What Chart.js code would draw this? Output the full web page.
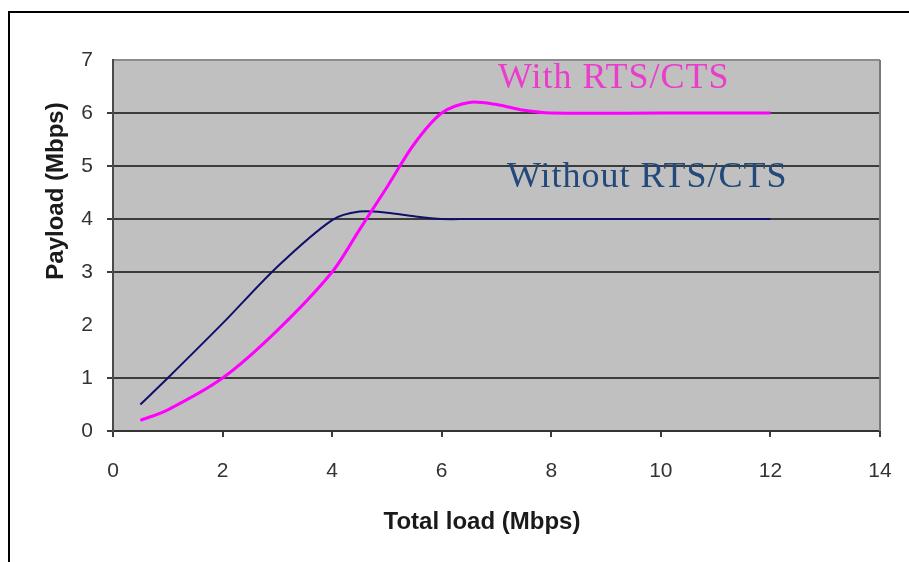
<!DOCTYPE html>
<html>
<head>
<meta charset="utf-8">
<title>Payload vs total load</title>
<script src="https://cdn.jsdelivr.net/npm/chart.js@4.4.1/dist/chart.umd.min.js"></script>
<style>
  html, body {
    margin: 0;
    padding: 0;
    background: #ffffff;
  }

  #chart {
    display: block;
  }
</style>
</head>
<body>
<canvas id="chart" width="909" height="562"></canvas>
<script>
// values (Mbps)
const loadMbps = [0.5, 1, 2, 3, 4, 4.5, 5, 5.5, 6, 6.5, 7, 7.5, 8, 10, 12];
const withRtsCts = [0.2, 0.4, 1.0, 1.9, 3.0, 3.8, 4.6, 5.42, 6.0, 6.2, 6.16, 6.05, 6.0, 6.0, 6.0];
const withoutRtsCts = [0.5, 1.0, 2.03, 3.1, 3.98, 4.14, 4.12, 4.05, 4.0, 4.0, 4.0, 4.0, 4.0, 4.0, 4.0];

const xRange = [0, 14];
const yRange = [0, 7];
const xStep = 2;
const yStep = 1;

const seriesNames = ["With RTS/CTS", "Without RTS/CTS"];
const xTitle = "Total load (Mbps)";
const yTitle = "Payload (Mbps)";


function toPoints(xs, ys) {
  return xs.map((x, i) => ({ x: x, y: ys[i] }));
}


function yGridColor(ctx) {
  if (!ctx.tick) {
    return "#3c3c3c";
  }

  if (ctx.tick.value === 2) {
    return "rgba(0,0,0,0)";
  }

  if (ctx.tick.value === 7) {
    return "#8c8c8c";
  }

  return "#3c3c3c";
}


function yTickColor(ctx) {
  if (ctx.tick && (ctx.tick.value === 2 || ctx.tick.value === 7)) {
    return "rgba(0,0,0,0)";
  }

  return "#3c3c3c";
}


const decorPlugin = {
  id: "decor",

  beforeDraw(chart) {
    const ctx = chart.ctx;
    const area = chart.chartArea;

    ctx.save();
    ctx.fillStyle = "#c0c0c0";
    ctx.fillRect(area.left, area.top, area.right - area.left, area.bottom - area.top);
    ctx.restore();
  },

  afterDraw(chart) {
    const ctx = chart.ctx;
    const area = chart.chartArea;

    ctx.save();

    // right edge of the plot
    ctx.fillStyle = "#7a7a7a";
    ctx.fillRect(area.right - 1, area.top, 2, area.bottom - area.top);

    // frame of the figure
    ctx.fillStyle = "#000000";
    ctx.fillRect(8, 11, 2, chart.height - 11);
    ctx.fillRect(8, 11, chart.width - 8, 2);

    // series labels
    ctx.font = "36px \"Liberation Serif\", \"Times New Roman\", serif";
    ctx.letterSpacing = "1px";
    ctx.textAlign = "left";
    ctx.textBaseline = "alphabetic";
    ctx.fillStyle = "#ec3ccb";
    ctx.fillText(seriesNames[0], 498, 88);
    ctx.fillStyle = "#22497a";
    ctx.fillText(seriesNames[1], 507, 187);
    ctx.letterSpacing = "0px";

    // axis titles
    ctx.fillStyle = "#1a1a1a";
    ctx.font = "bold 24px \"Liberation Sans\", Arial, sans-serif";
    ctx.textAlign = "center";
    ctx.fillText(xTitle, 482, 529);

    ctx.translate(63, 191);
    ctx.rotate(-Math.PI / 2);
    ctx.fillText(yTitle, 0, 0);

    ctx.restore();
  }
};


function renderChart() {
  const canvas = document.getElementById("chart");
  const ctx = canvas.getContext("2d");

  Chart.defaults.font.family = "\"Liberation Sans\", Arial, sans-serif";

  new Chart(ctx, {
    type: "line",
    data: {
      datasets: [
        {
          label: seriesNames[0],
          data: toPoints(loadMbps, withRtsCts),
          borderColor: "#ff00ff",
          borderWidth: 3,
          pointRadius: 0,
          tension: 0.3,
          fill: false
        },
        {
          label: seriesNames[1],
          data: toPoints(loadMbps, withoutRtsCts),
          borderColor: "#10106a",
          borderWidth: 2,
          pointRadius: 0,
          tension: 0.3,
          fill: false
        }
      ]
    },
    options: {
      responsive: false,
      animation: false,
      devicePixelRatio: 1,

      layout: {
        padding: {
          left: 0,
          top: 60,
          right: 29,
          bottom: 0
        }
      },

      plugins: {
        legend: { display: false },
        tooltip: { enabled: false }
      },

      scales: {
        x: {
          type: "linear",
          min: xRange[0],
          max: xRange[1],
          afterFit(scale) {
            scale.height = 131;
            scale.paddingLeft = 0;
            scale.paddingRight = 0;
          },
          ticks: {
            stepSize: xStep,
            color: "#333333",
            padding: 22,
            maxRotation: 0,
            font: {
              size: 21
            }
          },
          grid: {
            drawOnChartArea: false,
            tickLength: 6,
            tickColor: "#3c3c3c",
            lineWidth: 2
          },
          border: {
            color: "#333333",
            width: 2
          }
        },

        y: {
          min: yRange[0],
          max: yRange[1],
          afterFit(scale) {
            scale.width = 113;
          },
          ticks: {
            stepSize: yStep,
            color: "#333333",
            padding: 14,
            font: {
              size: 21
            }
          },
          grid: {
            color: yGridColor,
            tickColor: yTickColor,
            tickLength: 6,
            lineWidth: 2
          },
          border: {
            color: "#4a4a4a",
            width: 2
          }
        }
      }
    },
    plugins: [decorPlugin]
  });
}


document.addEventListener("DOMContentLoaded", renderChart);
</script>
</body>
</html>
